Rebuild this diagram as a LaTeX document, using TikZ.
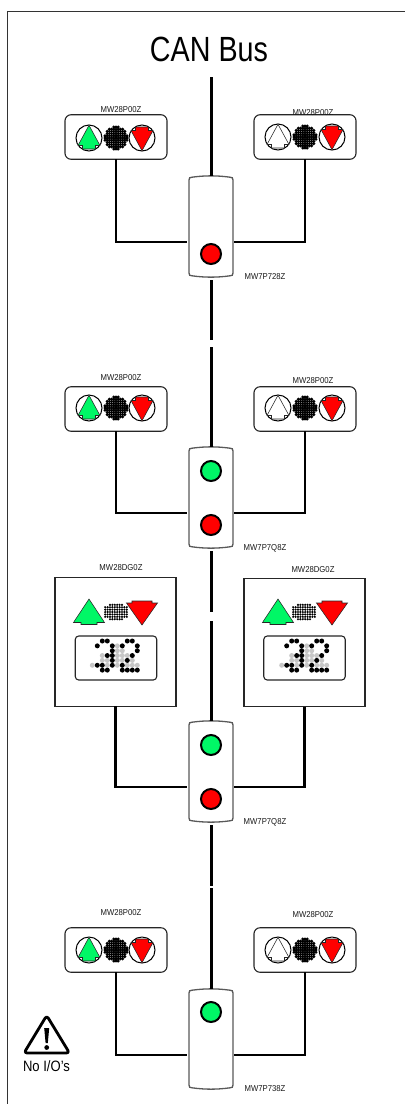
\documentclass[tikz,border=0pt]{standalone}
\usepackage{fontspec}
\setmainfont{Liberation Sans}
\definecolor{ledgreen}{HTML}{00F766}
\definecolor{ledred}{HTML}{FF0000}
\tikzset{
  panelbox/.style={draw=black!85,line width=1.1pt,rounded corners=6pt,fill=white,inner sep=0pt,outer sep=0pt,minimum width=102pt,minimum height=44.5pt},
  dgbox/.style={draw=black!85,line width=1.1pt,fill=white,inner sep=0pt,outer sep=0pt,minimum width=121pt,minimum height=128.5pt},
  dispbox/.style={draw=black!85,line width=1.1pt,rounded corners=3.5pt,fill=white,inner sep=0pt,outer sep=0pt,minimum width=81.5pt,minimum height=44pt},
  ctrlanchor/.style={inner sep=0pt,outer sep=0pt,minimum width=44pt},
  ctrlline/.style={draw=black!65,line width=1.3pt,fill=white},
  busline/.style={line width=3pt,black},
  wire/.style={line width=2.9pt,black,line join=miter},
  led/.style={draw=black,line width=2pt,circle,inner sep=0pt,outer sep=0pt,minimum size=20pt},
  lbl/.style={font=\fontsize{8.6}{9}\selectfont,text=black!90,inner sep=0pt,xscale=.9},
  ringline/.style={draw=black,line width=1pt,fill=white},
  arrowline/.style={line width=.55pt,line join=miter},
}
% arrow in a ring: x, y, fill, direction (1 up, -1 down)
\newcommand{\ringarrow}[4]{%
  \draw[ringline] (#1,#2) circle (13);
  \draw[arrowline,draw=black!85,fill=#3] (#1,#2-12.7*#4) -- (#1+11,#2+7.5*#4) -- (#1+6.5,#2+7.5*#4) -- (#1+6.5,#2+11*#4) -- (#1-6.5,#2+11*#4) -- (#1-6.5,#2+7.5*#4) -- (#1-11,#2+7.5*#4) -- cycle;
}
% the black dotted disc
\newcommand{\dotdisc}[2]{%
  \foreach \i in {-5,...,5}{\foreach \j in {-5,...,5}{%
    \ifnum\numexpr\i*\i+\j*\j\relax<28
      \fill[black] (#1+\i*2.2,#2+\j*2.2) circle (1.7);
    \fi}}%
}
% big arrows
\newcommand{\bigup}[1]{%
  \draw[arrowline,draw=black!85,fill=ledgreen] (#1,599) -- (#1+15.5,622.5) -- (#1+8,622.5) -- (#1+8,624.5) -- (#1-8,624.5) -- (#1-8,622.5) -- (#1-15.5,622.5) -- cycle;
}
\newcommand{\bigdown}[1]{%
  \draw[arrowline,draw=black!85,fill=ledred] (#1,625) -- (#1+15.5,603) -- (#1+10,603) -- (#1+10,601) -- (#1-10,601) -- (#1-10,603) -- (#1-15.5,603) -- cycle;
}
\newcommand{\dotblock}[1]{%
  \foreach \i in {0,...,9}{\foreach \j in {0,...,6}{%
    \ifnum\numexpr(2*\i-9)*(2*\i-9)+3*(\j-3)*(\j-3)*(\j-3)*(\j-3)/4\relax<100
      \fill[black] (#1-10.8+\i*2.4,612-7.2+\j*2.4) circle (1.2);
    \fi}}%
}
% dot-matrix text: x of column 0
\newcommand{\dispdots}[1]{%
  \foreach \c/\r in {5/1,5/2,6/2,2/3,5/3,6/3,7/3,2/4,3/4,5/4,6/4,8/4,0/5,3/5,5/5,7/5,8/5,9/5}
    \fill[black!22] (#1+\c*5,641+\r*4.85) circle (2.5);
  \foreach \c/\r in {2/0,3/0,7/0,8/0,1/1,4/1,6/1,9/1,4/2,9/2,3/3,4/3,8/3,4/4,7/4,1/5,2/5,4/5,6/5,2/6,3/6,6/6,7/6,8/6,9/6}
    \fill[black] (#1+\c*5,641+\r*4.85) circle (2.5);
}
\newcommand{\ctrlbox}[3]{%
  \node[ctrlanchor,minimum height=#3-#2] (#1) at (211,#2/2+#3/2) {};
  \draw[ctrlline] (189,#2+4) .. controls (189,#2+1.5) and (190,#2+1.5) .. (192,#2+1.2)
    .. controls (205,#2-.6) and (217,#2-.6) .. (230,#2+1.2)
    .. controls (232,#2+1.5) and (233,#2+1.5) .. (233,#2+4) -- (233,#3-4)
    .. controls (233,#3-1.5) and (232,#3-1.5) .. (230,#3-1.2)
    .. controls (217,#3+.6) and (205,#3+.6) .. (192,#3-1.2)
    .. controls (190,#3-1.5) and (189,#3-1.5) .. (189,#3-4) -- cycle;
}
\begin{document}
\begin{tikzpicture}[x=1pt,y=-1pt]
\useasboundingbox (0,0) rectangle (405,1104);
\draw[black!80,line width=1.2pt] (7.6,1104) -- (7.6,11.5) -- (405,11.5);
\node[font=\fontsize{35}{38}\selectfont,inner sep=0pt,xscale=.82] (title) at (209,49) {CAN Bus};
% bus free ends
\coordinate (bus0) at (211,77);
\coordinate (gap1a) at (211,340);
\coordinate (gap1b) at (211,347);
\coordinate (gap2a) at (211,612);
\coordinate (gap2b) at (211,621);
\coordinate (gap3a) at (211,885.5);
\coordinate (gap3b) at (211,888);
% controllers
\ctrlbox{c1}{176}{277}
\ctrlbox{c2}{447}{548}
\ctrlbox{c3}{721}{822}
\ctrlbox{c4}{989}{1089}
\coordinate (j1) at (211,242);
\coordinate (j2) at (211,513);
\coordinate (j3) at (211,787);
\coordinate (j4) at (211,1055);
\draw[busline] (bus0) -- (c1.north);
\draw[busline,shorten <=3pt] (c1.south) -- (gap1a);
\draw[busline] (gap1b) -- (c2.north);
\draw[busline,shorten <=3pt] (c2.south) -- (gap2a);
\draw[busline] (gap2b) -- (c3.north);
\draw[busline,shorten <=3pt] (c3.south) -- (gap3a);
\draw[busline] (gap3b) -- (c4.north);
% LEDs
\node[led,fill=ledred] (l1r) at (211,254) {};
\node[led,fill=ledgreen] (l2g) at (211,471) {};
\node[led,fill=ledred] (l2r) at (211,525) {};
\node[led,fill=ledgreen] (l3g) at (211,745) {};
\node[led,fill=ledred] (l3r) at (211,799) {};
\node[led,fill=ledgreen] (l4g) at (211,1012) {};
% panels
\node[panelbox] (p1l) at (116,137) {};
\node[panelbox] (p1r) at (305,137) {};
\node[panelbox] (p2l) at (116,409) {};
\node[panelbox] (p2r) at (305,409) {};
\node[dgbox] (p3l) at (115.5,642) {};
\node[dgbox] (p3r) at (304.5,642.5) {};
\node[panelbox] (p4l) at (116,950) {};
\node[panelbox] (p4r) at (305,950) {};
\node[dispbox] (d3l) at (116,658) {};
\node[dispbox] (d3r) at (304.5,658) {};
% wires
\draw[wire,shorten >=2pt] (p1l.south) |- (c1.west |- j1);
\draw[wire,shorten >=1pt] (p1r.south) |- (c1.east |- j1);
\draw[wire,shorten >=2pt] (p2l.south) |- (c2.west |- j2);
\draw[wire,shorten >=1pt] (p2r.south) |- (c2.east |- j2);
\draw[wire,shorten >=2pt] (p3l.south) |- (c3.west |- j3);
\draw[wire,shorten >=1pt] (p3r.south) |- (c3.east |- j3);
\draw[wire,shorten >=2pt] (p4l.south) |- (c4.west |- j4);
\draw[wire,shorten >=1pt] (p4r.south) |- (c4.east |- j4);
% row 1
\ringarrow{89}{138}{ledgreen}{1}\dotdisc{116}{138}\ringarrow{142}{138}{ledred}{-1}
\ringarrow{278}{137}{white}{1}\dotdisc{305}{137}\ringarrow{332}{137}{ledred}{-1}
% row 2
\ringarrow{89}{408}{ledgreen}{1}\dotdisc{116}{408}\ringarrow{142}{408}{ledred}{-1}
\ringarrow{278}{408}{white}{1}\dotdisc{305}{408}\ringarrow{332}{408}{ledred}{-1}
% row 4
\ringarrow{89}{950}{ledgreen}{1}\dotdisc{116}{950}\ringarrow{142}{950}{ledred}{-1}
\ringarrow{278}{950}{white}{1}\dotdisc{305}{950}\ringarrow{332}{950}{ledred}{-1}
% row 3
\bigup{89}\dotblock{116}\bigdown{142}\dispdots{92.3}
\bigup{278}\dotblock{304}\bigdown{332}\dispdots{281.7}
% labels
\node[lbl] (t1) at (121,110) {MW28P00Z};
\node[lbl] (t2) at (313,113) {MW28P00Z};
\node[lbl] (t3) at (121,378) {MW28P00Z};
\node[lbl] (t4) at (313,381) {MW28P00Z};
\node[lbl] (t5) at (121,568) {MW28DG0Z};
\node[lbl] (t6) at (313,570) {MW28DG0Z};
\node[lbl] (t7) at (121,913) {MW28P00Z};
\node[lbl] (t8) at (313,915) {MW28P00Z};
\node[lbl] (t9) at (265,277) {MW7P728Z};
\node[lbl] (t10) at (265,548) {MW7P7Q8Z};
\node[lbl] (t11) at (265,822) {MW7P7Q8Z};
\node[lbl] (t12) at (265,1089) {MW7P738Z};
% warning
\draw[black,line width=2.8pt,line join=round,rounded corners=3pt] (46.7,1015.5) -- (69.5,1053) -- (24,1053) -- cycle;
\fill[black] (44.2,1028) -- (49.2,1028) -- (47.8,1043) -- (45.6,1043) -- cycle;
\fill[black] (46.7,1047.5) circle (2.4);
\node[font=\fontsize{15}{16}\selectfont,inner sep=0pt,xscale=.87] (noio) at (46.5,1066) {No I/O's};
\end{tikzpicture}
\end{document}
